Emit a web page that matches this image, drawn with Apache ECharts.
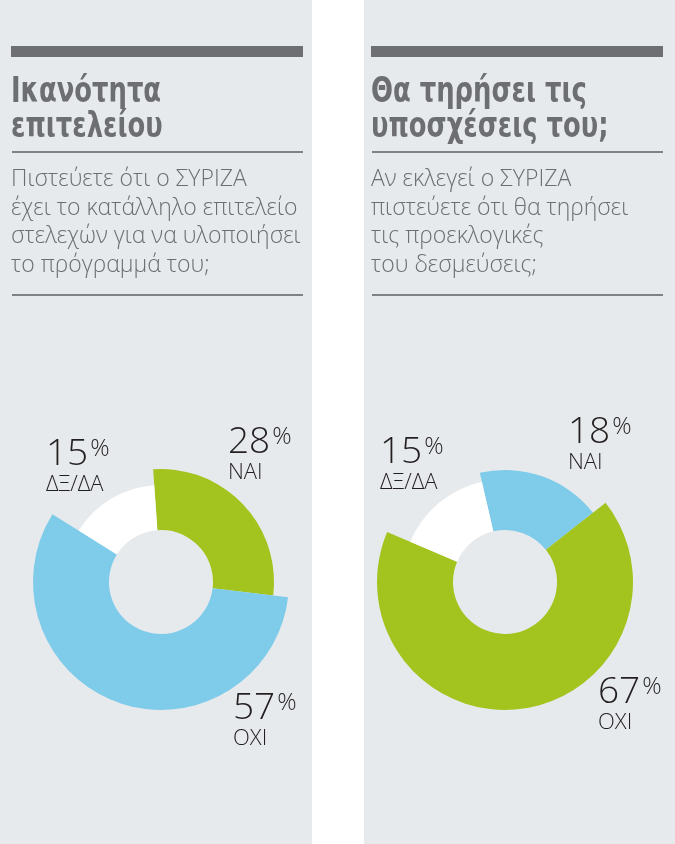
<!DOCTYPE html>
<html><head><meta charset="utf-8">
<script src="https://cdn.jsdelivr.net/npm/echarts@6/dist/echarts.min.js"></script>
<style>html,body{margin:0;padding:0;background:#fff}#c{width:675px;height:844px}</style>
</head><body><div id="c"></div>
<script>
// ---- data ----
const categories = ['ΝΑΙ', 'ΟΧΙ', 'ΔΞ/ΔΑ'];
const leftValues = [28, 57, 15];
const rightValues = [18, 67, 15];
const leftTitle = ['Ικανότητα', 'επιτελείου'];
const rightTitle = ['Θα τηρήσει τις', 'υποσχέσεις του;'];
const leftQuestion = ['Πιστεύετε ότι ο ΣΥΡΙΖΑ', 'έχει το κατάλληλο επιτελείο', 'στελεχών για να υλοποιήσει', 'το πρόγραμμά του;'];
const rightQuestion = ['Αν εκλεγεί ο ΣΥΡΙΖΑ', 'πιστεύετε ότι θα τηρήσει', 'τις προεκλογικές', 'του δεσμεύσεις;'];

// ---- style ----
const GREEN = '#a3c41f', BLUE = '#7fcbea', WHITE = '#ffffff';
const BG = '#e7eaed', DARK = '#6d6f72', TXT = '#6d6e71', LINE = '#7f8185';
const TITLE_FONT = '"DejaVu Sans Condensed", "DejaVu Sans", sans-serif';
const BODY_FONT = '"Open Sans", "Noto Sans", sans-serif';

const chart = echarts.init(document.getElementById('c'), null, {renderer: 'canvas'});

function panelGraphics(x0, w, pad, title, question) {
  const g = [];
  const xl = x0 + pad;
  g.push({type: 'rect', shape: {x: x0, y: 0, width: w, height: 844}, style: {fill: BG}, z: -10});
  g.push({type: 'rect', shape: {x: xl, y: 46, width: 292, height: 11}, style: {fill: DARK}});
  title.forEach((t, i) => g.push({type: 'text', x: xl, y: 75 + i * 35, scaleX: 0.82,
    style: {text: t, fill: TXT, font: 'bold 35px ' + TITLE_FONT, verticalAlign: 'top'}}));
  g.push({type: 'rect', shape: {x: xl + 1, y: 151, width: 291, height: 2}, style: {fill: LINE}});
  question.forEach((t, i) => g.push({type: 'text', x: xl, y: 168 + i * 28.5,
    style: {text: t, fill: TXT, font: '300 23px ' + BODY_FONT, verticalAlign: 'top'}}));
  g.push({type: 'rect', shape: {x: xl + 1, y: 294, width: 291, height: 2}, style: {fill: LINE}});
  return g;
}

function donut(values, colors, radii, center, startAngle, labelPos) {
  return values.map((_, k) => ({
    type: 'pie', center: center, radius: [52, radii[k]], startAngle: startAngle, clockwise: true,
    silent: true, avoidLabelOverlap: false, animation: false,
    labelLine: {show: false},
    data: values.map((v, i) => ({
      name: categories[i], value: v,
      itemStyle: {color: i === k ? colors[i] : 'rgba(0,0,0,0)', borderWidth: 0},
      label: {show: i === k}
    })),
    label: {
      position: 'outside',
      formatter: p => '{n|' + p.value + '}{p|%}\n{c|' + p.name + '}',
      rich: {
        n: {fontFamily: BODY_FONT, fontWeight: 300, fontSize: 37, lineHeight: 34, color: '#231f20'},
        p: {fontFamily: BODY_FONT, fontWeight: 300, fontSize: 24, lineHeight: 22, verticalAlign: 'top', color: '#231f20', padding: [0, 0, 0, 2]},
        c: {fontFamily: BODY_FONT, fontWeight: 300, fontSize: 22, lineHeight: 28, color: '#231f20'}
      }
    },
    labelLayout: p => p.dataIndex === k ? {x: labelPos[k][0], y: labelPos[k][1], align: 'left', verticalAlign: 'top'} : {}
  }));
}

const option = {
  backgroundColor: '#ffffff',
  graphic: [].concat(panelGraphics(0, 312, 11, leftTitle, leftQuestion), panelGraphics(364, 311, 7, rightTitle, rightQuestion)),
  series: [].concat(
    donut(leftValues, [GREEN, BLUE, WHITE], [113, 128, 97], [161, 582], 94, [[228, 425], [233, 691], [46, 437]]),
    donut(rightValues, [BLUE, GREEN, WHITE], [112, 128, 103], [505, 582], 103, [[568, 415], [598, 675], [380, 435]])
  )
};
chart.setOption(option);
</script>
</body></html>
